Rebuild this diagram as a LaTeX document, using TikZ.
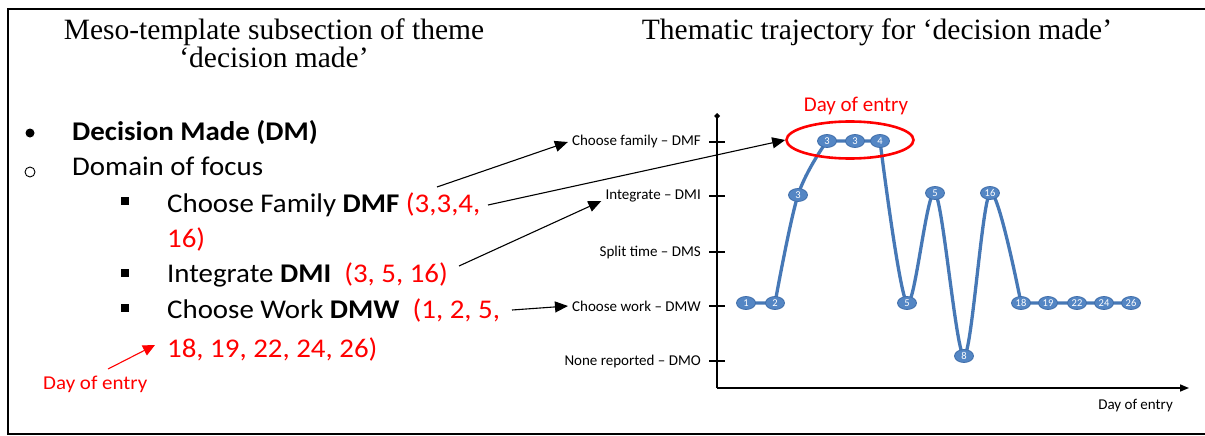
\documentclass[tikz,border=0pt]{standalone}
\usepackage{fontspec}
\setmainfont{Carlito}
\newfontfamily\listfont[FakeStretch=1.07]{Carlito}
\newfontfamily\titlefont{Liberation Serif}
\usetikzlibrary{arrows.meta,shapes.geometric}

\definecolor{trajline}{RGB}{70,120,182}
\definecolor{markfill}{RGB}{84,134,196}
\definecolor{markedge}{RGB}{64,110,170}

\tikzset{
  heading/.style={font=\titlefont\fontsize{29.5}{30}\selectfont, anchor=base, inner sep=0},
  listtext/.style={font=\listfont\fontsize{27}{30}\selectfont, anchor=base west, inner sep=0},
  redtext/.style={text=red},
  axislabel/.style={font=\fontsize{15}{16}\selectfont, anchor=east, inner sep=4pt},
  daymark/.style={ellipse, fill=markfill, draw=markedge, line width=0.8pt,
    minimum width=19pt, minimum height=13pt, inner sep=0,
    text=white, font=\fontsize{10.5}{11}\selectfont},
  pointer/.style={-{Triangle[length=13pt,width=11pt]}, line width=1.1pt},
  redpointer/.style={-{Triangle[length=12pt,width=11pt]}, line width=1.1pt, red},
  tick/.style={line width=1.4pt},
}

\begin{document}
\begin{tikzpicture}[x=1pt,y=-1pt]
\useasboundingbox (0,0) rectangle (1205,436);

% frame (open on the right)
\draw[line width=2.6pt] (1206,9) -- (8,9) -- (8,434) -- (1206,434);

% headings
\node[heading] (h1) at (274,40) {Meso-template subsection of theme};
\node[heading] (h2) at (274,68) {‘decision made’};
\node[heading] (h3) at (877,40) {Thematic trajectory for ‘decision made’};

% ---------- list ----------
\node[circle, fill=black, inner sep=0, minimum size=9pt] (b1) at (30,133) {};
\node[circle, draw=black, line width=0.9pt, inner sep=0, minimum size=10pt] (b2) at (30,172) {};
\foreach \yy/\nm in {201/q1, 273/q2, 308/q3}
  \node[rectangle, fill=black, inner sep=0, minimum size=8pt] (\nm) at (125,\yy) {};

\node[listtext] (t1) at (72,140) {\textbf{Decision Made (DM)}};
\node[listtext] (t2) at (72,175) {Domain of focus};
\node[listtext] (t3) at (167,212) {Choose Family \textbf{DMF} {\color{red}(3,3,4,}};
\node[listtext, redtext] (t4) at (167,247) {16)};
\node[listtext] (t5) at (167,282) {Integrate \textbf{DMI}\ \ {\color{red}(3, 5, 16)}};
\node[listtext] (t6) at (167,318) {Choose Work \textbf{DMW}\ \ {\color{red}(1, 2, 5,}};
\node[listtext, redtext] (t7) at (167,357) {18, 19, 22, 24, 26)};

\node[font=\listfont\fontsize{19.6}{22}\selectfont, text=red, inner sep=0, anchor=base west] (doe1) at (43,389) {Day of entry};

% ---------- chart ----------
\coordinate (origin) at (717,388);
\coordinate (ytop) at (717,113);
\coordinate (xend) at (1189,388);
\draw[line width=1.6pt, -{Turned Square[length=6pt,width=6pt]}] (origin) -- (ytop);
\draw[line width=1.6pt, -{Triangle[length=9pt,width=7pt]}] (origin) -- (xend);

\foreach \yy/\nm/\txt in {142/lF/Choose family – DMF, 196/lI/Integrate – DMI,
    252/lS/Split time – DMS, 306/lW/Choose work – DMW, 361/lO/None reported – DMO}{
  \draw[tick] (709,\yy) -- (725,\yy);
  \node[axislabel] (\nm) at (705,\yy) {\txt};
}

\node[font=\fontsize{15}{16}\selectfont, anchor=base east, inner sep=0] (xlab) at (1173,409) {Day of entry};

% points of the trajectory
\coordinate (p1) at (746,303);
\coordinate (p2) at (775,303);
\coordinate (p3) at (798,195);
\coordinate (p4) at (827,141);
\coordinate (p5) at (855,141);
\coordinate (p6) at (880,141);
\coordinate (p7) at (907,303);
\coordinate (p8) at (935,193);
\coordinate (p9) at (964,356);
\coordinate (p10) at (990,193);
\coordinate (p11) at (1021,303);
\coordinate (p12) at (1048,303);
\coordinate (p13) at (1077,303);
\coordinate (p14) at (1104,303);
\coordinate (p15) at (1131,303);

\draw[trajline, line width=3.3pt, line join=round]
  (p1) -- (p2)
  plot[smooth, tension=0.55] coordinates {(p2) (p3) (p4)}
  -- (p5) -- (p6)
  plot[smooth, tension=0.5] coordinates {(p6) (p7) (p8) (p9) (p10) (p11)}
  -- (p15);

\foreach \pt/\d in {p1/1, p2/2, p3/3, p4/3, p5/3, p6/4, p7/5, p8/5, p9/8,
    p10/16, p11/18, p12/19, p13/22, p14/24, p15/26}
  \node[daymark] (m\pt) at (\pt) {\d};

% highlighted group and its caption
\node[ellipse, draw=red, line width=2.6pt, minimum width=127pt, minimum height=37pt, inner sep=0] (grp) at (850,140) {};
\node[font=\fontsize{21}{22}\selectfont, text=red, inner sep=0] (doe2) at (856,106) {Day of entry};

% ---------- pointers ----------
\coordinate (s1) at (437,187);
\coordinate (s2) at (488,205);
\coordinate (s3) at (459,266);
\coordinate (s4) at (512,310);
\coordinate (s5) at (108,369);
\coordinate (e5) at (155,345);

\draw[pointer] (s1) -- (lF.west);
\draw[pointer] (s2) -- (grp.west);
\draw[pointer] (s3) -- ([yshift=-5pt]lI.west);
\draw[pointer] (s4) -- (lW.west);
\draw[redpointer] (s5) -- (e5);

\end{tikzpicture}
\end{document}
